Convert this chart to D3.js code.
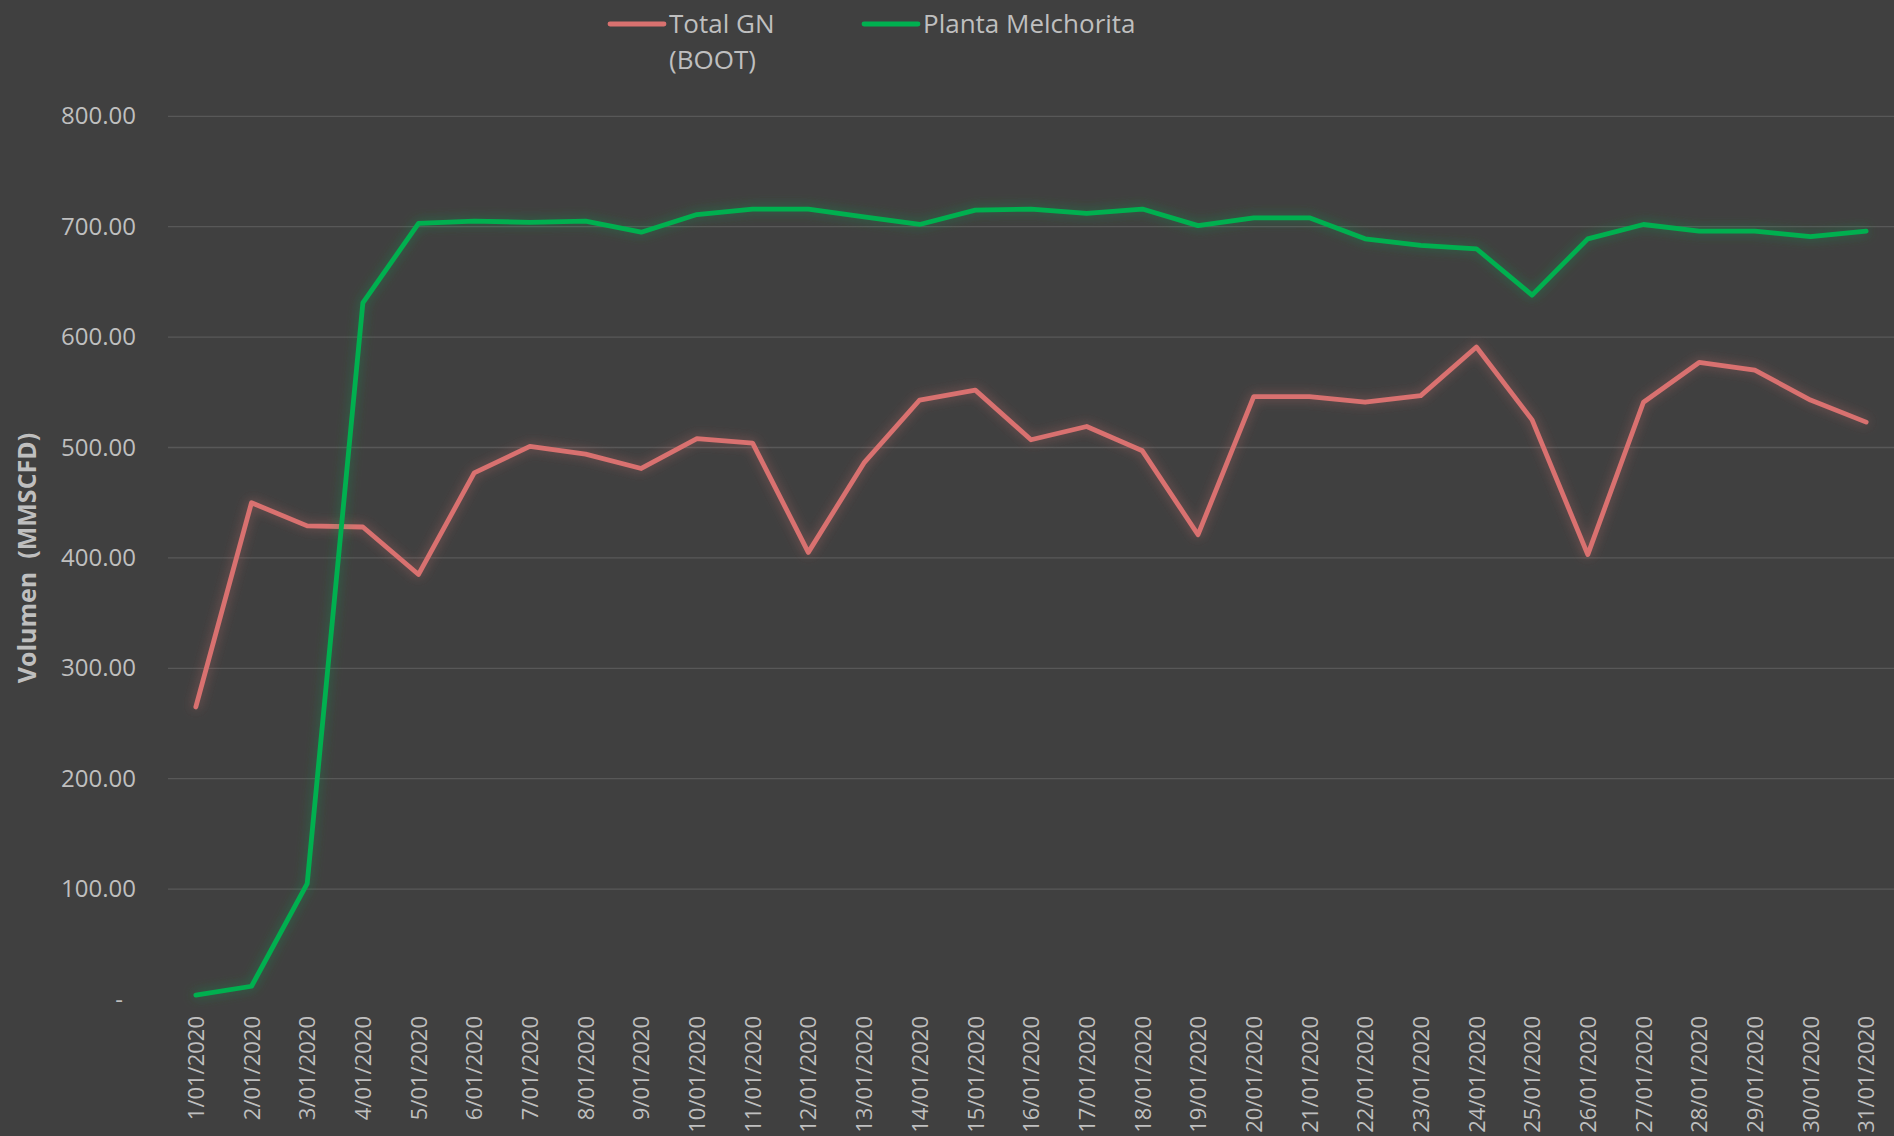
<!DOCTYPE html>
<html>
<head>
<meta charset="utf-8">
<script src="https://cdn.jsdelivr.net/npm/d3@7"></script>
<style>
  html, body { margin: 0; padding: 0; background: #404040; }
  svg { display: block; font-family: "Open Sans", sans-serif; }
</style>
</head>
<body>
<script>
// Daily values, January 2020 (MMSCFD)
var days = [];
for (var d = 1; d <= 31; d++) days.push(d + '/01/2020');

var totalGN = [265, 450, 429, 428, 385, 477, 501, 494, 481, 508, 504, 405, 486, 543, 552, 507,
               519, 497, 421, 546, 546, 541, 547, 591, 525, 403, 541, 577, 570, 543, 523];
var melchorita = [4, 12, 105, 631, 703, 705, 704, 705, 695, 711, 716, 716, 709, 702, 715, 716,
                  712, 716, 701, 708, 708, 689, 683, 680, 638, 689, 702, 696, 696, 691, 696];

var yTicks = [0, 100, 200, 300, 400, 500, 600, 700, 800];

var series = [
    { name: ['Total GN', '(BOOT)'], values: totalGN, color: '#d9716f' },
    { name: ['Planta Melchorita'], values: melchorita, color: '#00b050' }
];

var width = 1894, height = 1136;
var textColor = '#bfbfbf';

var svg = d3.select('body').append('svg')
    .attr('width', width)
    .attr('height', height);

svg.append('rect').attr('width', width).attr('height', height).attr('fill', '#404040');

// soft glow around the lines
var defs = svg.append('defs');
series.forEach(function(s, i){
    var f = defs.append('filter').attr('id', 'glow' + i)
        .attr('x', '-10%').attr('y', '-10%').attr('width', '120%').attr('height', '120%');
    f.append('feGaussianBlur').attr('in', 'SourceGraphic').attr('stdDeviation', 6).attr('result', 'blur');
    f.append('feComponentTransfer').attr('in', 'blur').attr('result', 'faded')
        .append('feFuncA').attr('type', 'linear').attr('slope', 0.5);
    var m = f.append('feMerge');
    m.append('feMergeNode').attr('in', 'faded');
    m.append('feMergeNode').attr('in', 'SourceGraphic');
});

var x = d3.scalePoint().domain(days).range([168, 1894]).padding(0.5);
var y = d3.scaleLinear().domain([0, 800]).range([999.5, 116.3]);

// gridlines
svg.append('g').selectAll('line')
    .data(yTicks.filter(function(t){ return t > 0; }))
    .enter().append('line')
    .attr('x1', 168).attr('x2', width)
    .attr('y1', function(t){ return y(t); })
    .attr('y2', function(t){ return y(t); })
    .attr('stroke', '#585858')
    .attr('stroke-width', 1.3);

// y axis labels
var yAxis = d3.axisLeft(y).tickValues(yTicks).tickSize(0).tickPadding(0)
    .tickFormat(function(t){ return t === 0 ? '-' : d3.format('.2f')(t); });
var yg = svg.append('g').attr('transform', 'translate(136,0)').call(yAxis);
yg.select('.domain').remove();
yg.selectAll('text')
    .attr('fill', textColor)
    .style('font-size', '24px')
    .style('font-family', '"Open Sans", sans-serif')
    .attr('dx', function(t){ return t === 0 ? -13 : 0; });

// x axis labels, rotated
var xAxis = d3.axisBottom(x).tickSize(0).tickPadding(0);
var xg = svg.append('g').attr('transform', 'translate(0,1016)').call(xAxis);
xg.select('.domain').remove();
xg.selectAll('text')
    .attr('fill', textColor)
    .style('font-size', '22px')
    .style('font-family', '"Open Sans", sans-serif')
    .attr('text-anchor', 'end')
    .attr('y', 0)
    .attr('dy', '0.35em')
    .attr('transform', 'rotate(-90)');

// axis title
svg.append('text')
    .attr('transform', 'translate(36,558) rotate(-90)')
    .attr('text-anchor', 'middle')
    .attr('fill', textColor)
    .style('font-size', '25px')
    .style('font-weight', 'bold')
    .style('white-space', 'pre')
    .text('Volumen  (MMSCFD)');

// lines
var line = d3.line()
    .x(function(v, i){ return x(days[i]); })
    .y(function(v){ return y(v); });

series.forEach(function(s, i){
    svg.append('path')
        .datum(s.values)
        .attr('d', line)
        .attr('fill', 'none')
        .attr('stroke', s.color)
        .attr('stroke-width', 4.8)
        .attr('stroke-linejoin', 'round')
        .attr('stroke-linecap', 'round')
        .attr('filter', 'url(#glow' + i + ')');
});

// legend
var legendX = [610, 864];
series.forEach(function(s, i){
    var g = svg.append('g').attr('transform', 'translate(' + legendX[i] + ',24)');
    g.append('line').attr('x1', 0).attr('x2', 54).attr('y1', 0).attr('y2', 0)
        .attr('stroke', s.color).attr('stroke-width', 4.8).attr('stroke-linecap', 'round');
    var t = g.append('text').attr('x', 59).attr('y', 9)
        .attr('fill', textColor).style('font-size', '26px');
    s.name.forEach(function(part, k){
        t.append('tspan').attr('x', 59).attr('dy', k === 0 ? 0 : 36).text(part);
    });
});
</script>
</body>
</html>
